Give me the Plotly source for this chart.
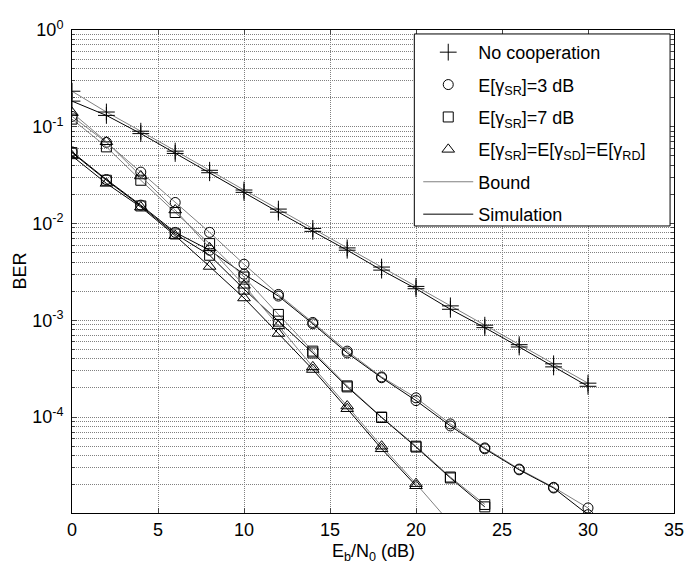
import plotly.graph_objects as go
import numpy as np

# ---------------- data ----------------
snr = [0, 2, 4, 6, 8, 10, 12, 14, 16, 18, 20, 22, 24, 26, 28, 30]

nocoop_bound = [0.233, 0.142, 0.090, 0.056, 0.0355, 0.0222, 0.0141, 0.0089, 0.0056,
                0.00355, 0.00224, 0.00141, 0.00089, 0.00056, 0.000355, 0.000224]
nocoop_sim = [0.184, 0.131, 0.085, 0.053, 0.0335, 0.0210, 0.0131, 0.0083, 0.0053,
              0.0033, 0.00212, 0.00130, 0.00084, 0.00053, 0.00033, 0.000208]

sr3_bound = [0.128, 0.069, 0.034, 0.0165, 0.0081, 0.0038, 0.00185, 0.00095, 0.00048,
             0.00026, 0.000158, 0.000085, 0.000048, 0.000029, 0.0000188, 0.0000115]
sr3_sim = [0.055, 0.0285, 0.0155, 0.0081, 0.0053, 0.0030, 0.00178, 0.00092, 0.00046,
           0.000255, 0.000148, 0.000081, 0.000047, 0.0000285, 0.0000185, 0.0000098]

sr7_snr = [0, 2, 4, 6, 8, 10, 12, 14, 16, 18, 20, 22, 24]
sr7_bound = [0.120, 0.062, 0.028, 0.013, 0.0062, 0.0028, 0.00115, 0.00048, 0.00021,
             0.000100, 0.000050, 0.000024, 0.0000125]
sr7_sim = [0.054, 0.028, 0.0152, 0.0078, 0.0047, 0.0021, 0.00098, 0.00046, 0.000205,
           0.000099, 0.000049, 0.0000235, 0.0000118]

eq_snr_bound = [0, 2, 4, 6, 8, 10, 12, 14, 16, 18, 20, 22]
eq_bound = [0.140, 0.070, 0.031, 0.0138, 0.0056, 0.0023, 0.00088, 0.00033, 0.00013,
            0.000050, 0.0000205, 0.0000080]
eq_snr_sim = [0, 2, 4, 6, 8, 10, 12, 14, 16, 18, 20]
eq_sim = [0.050, 0.026, 0.0148, 0.0075, 0.0036, 0.0017, 0.00073, 0.00031, 0.000122,
          0.000047, 0.0000195]

legend_labels = ["No cooperation", "E[γ<sub>SR</sub>]=3 dB", "E[γ<sub>SR</sub>]=7 dB",
                 "E[γ<sub>SR</sub>]=E[γ<sub>SD</sub>]=E[γ<sub>RD</sub>]", "Bound", "Simulation"]

xticks = [0, 5, 10, 15, 20, 25, 30, 35]
ytick_vals = [1, 0.1, 0.01, 0.001, 0.0001]
ytick_text = ["10<sup>0</sup>", "10<sup>-1</sup>", "10<sup>-2</sup>", "10<sup>-3</sup>", "10<sup>-4</sup>"]

# ---------------- style ----------------
FONT = "Liberation Sans, Arial, Helvetica, sans-serif"
FS = 18
BOUND_COLOR = "#808080"
SIM_COLOR = "#000000"
GRID = "#808080"
GDASH = "1px,1px"

symbols = ["cross-thin-open", "circle-open", "square-open", "triangle-up-open"]
sizes = [12, 10, 10, 11]

fig = go.Figure()

curves = [
    (snr, nocoop_bound, snr, nocoop_sim),
    (snr, sr3_bound, snr, sr3_sim),
    (sr7_snr, sr7_bound, sr7_snr, sr7_sim),
    (eq_snr_bound, eq_bound, eq_snr_sim, eq_sim),
]

for i, (xb, yb, xs, ys) in enumerate(curves):
    fig.add_trace(go.Scatter(x=xb, y=yb, mode="lines+markers", showlegend=False,
                             line=dict(color=BOUND_COLOR, width=1),
                             marker=dict(symbol=symbols[i], size=sizes[i], color="black",
                                         line=dict(color="black", width=1))))
    fig.add_trace(go.Scatter(x=xs, y=ys, mode="lines+markers", showlegend=False,
                             line=dict(color=SIM_COLOR, width=1),
                             marker=dict(symbol=symbols[i], size=sizes[i], color="black",
                                         line=dict(color="black", width=1))))

# legend entries
for i in range(4):
    fig.add_trace(go.Scatter(x=[None], y=[None], mode="markers", name=legend_labels[i],
                             legendgroup=f"g{i}",
                             marker=dict(symbol=symbols[i], size=sizes[i], color="black",
                                         line=dict(color="black", width=1))))
fig.add_trace(go.Scatter(x=[None], y=[None], mode="lines", name=legend_labels[4], legendgroup="g4",
                         line=dict(color=BOUND_COLOR, width=1)))
fig.add_trace(go.Scatter(x=[None], y=[None], mode="lines", name=legend_labels[5], legendgroup="g5",
                         line=dict(color=SIM_COLOR, width=1)))

minor_y = []
for e in range(-5, 0):
    for m in range(2, 10):
        minor_y.append(m * 10.0 ** e)

# page body has an 8px margin; figure is sized to fit the 694x568 window
OFF = 8
W, H = 694 - OFF, 568 - OFF
# target plot area in screen pixels
SX0, SX1, SY0, SY1 = 72, 684, 25, 513
L, R, T, B = SX0 - OFF, W - (SX1 - OFF), SY0 - OFF, H - (SY1 - OFF)
pw, ph = W - L - R, H - T - B

def px_x(p):
    return (p - SX0) / pw

def px_y(p):
    return (SY1 - p) / ph

fig.update_layout(
    width=W, height=H,
    margin=dict(l=L, r=R, t=T, b=B),
    paper_bgcolor="white", plot_bgcolor="white",
    font=dict(family=FONT, size=FS, color="black"),
    showlegend=True,
    legend=dict(x=px_x(424), y=px_y(29), xanchor="left", yanchor="top",
                bgcolor="rgba(0,0,0,0)", borderwidth=0,
                font=dict(family=FONT, size=FS, color="black"),
                traceorder="grouped", tracegroupgap=6, itemwidth=50),
    xaxis=dict(range=[0, 35], tickvals=xticks, ticks="inside", ticklen=5,
               showline=True, linecolor="black", linewidth=1, mirror="ticks",
               showgrid=True, gridcolor=GRID, gridwidth=1, griddash=GDASH,
               zeroline=False, tickfont=dict(size=FS), ticklabeloverflow="allow"),
    yaxis=dict(type="log", range=[np.log10(1.02e-5), 0], tickvals=ytick_vals, ticktext=ytick_text,
               ticks="inside", ticklen=5, ticklabelstandoff=4, ticklabeloverflow="allow",
               showline=True, linecolor="black", linewidth=1, mirror="ticks",
               showgrid=True, gridcolor=GRID, gridwidth=1, griddash=GDASH,
               zeroline=False, tickfont=dict(size=FS),
               minor=dict(tickvals=minor_y, ticks="inside", ticklen=3, showgrid=True,
                          gridcolor=GRID, gridwidth=1, griddash=GDASH)),
    shapes=[dict(type="rect", xref="paper", yref="paper",
                 x0=px_x(420), x1=px_x(680), y0=px_y(223), y1=px_y(29),
                 fillcolor="white", line=dict(color="black", width=1), layer="above")],
    annotations=[
        dict(text="BER", xref="paper", yref="paper", x=0, y=0.5, xshift=-(SX0 - 19),
             textangle=-90, showarrow=False, xanchor="center", yanchor="middle",
             font=dict(size=FS)),
        dict(text="E<sub>b</sub>/N<sub>0</sub> (dB)", xref="paper", yref="paper", x=0.5, y=0,
             yshift=-39, showarrow=False, xanchor="center", yanchor="middle",
             font=dict(size=FS)),
    ],
)

fig.write_html("out.html")
